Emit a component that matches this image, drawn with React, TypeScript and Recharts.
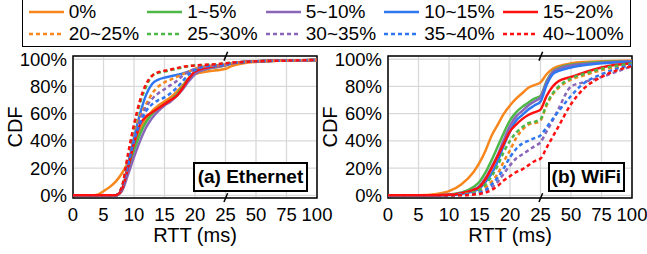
import React from "react";
import {
  CartesianGrid,
  Line,
  LineChart,
  ReferenceArea,
  ReferenceLine,
  XAxis,
  YAxis,
} from "recharts";

const FONT = '"Liberation Sans", Arial, sans-serif';

// broken x axis: 0-25 ms linear, then 25/50/75/100 one step each
const TICK_LABELS = ["0", "5", "10", "15", "20", "25", "50", "75", "100"];
const TICKS = [0, 1, 2, 3, 4, 5, 6, 7, 8];
const Y_TICKS = [0, 20, 40, 60, 80, 100];

const SERIES = [
  { key: "s0", name: "0%", color: "#F7861C", dashed: false },
  { key: "s1", name: "1~5%", color: "#4DB848", dashed: false },
  { key: "s2", name: "5~10%", color: "#8A66B8", dashed: false },
  { key: "s3", name: "10~15%", color: "#2F77F0", dashed: false },
  { key: "s4", name: "15~20%", color: "#FF1010", dashed: false },
  { key: "s5", name: "20~25%", color: "#F7861C", dashed: true },
  { key: "s6", name: "25~30%", color: "#4DB848", dashed: true },
  { key: "s7", name: "30~35%", color: "#8A66B8", dashed: true },
  { key: "s8", name: "35~40%", color: "#2F77F0", dashed: true },
  { key: "s9", name: "40~100%", color: "#FF1010", dashed: true },
];

// Ethernet CDF (%), one list per loss bucket, on RTT_ETH (ms)
const RTT_ETH = [0, 3, 4, 5, 6, 7, 8, 9, 10, 11, 12, 13, 14, 15, 16, 17, 18, 19, 20, 22, 25, 30, 40, 50, 75, 100];
const ETH = [
  [0, 0, 0.5, 3, 6, 10, 16, 24, 36, 48, 56, 62, 66, 69, 72, 76, 81, 86, 89, 91, 93, 95, 97, 98, 99, 99.5],
  [0, 0, 0, 0, 0, 0, 4, 18, 33, 45, 54, 60, 64, 67, 70, 74, 80, 86, 90, 93, 95.5, 97, 98, 98.5, 99, 99.5],
  [0, 0, 0, 0, 0, 0, 3, 15, 28, 40, 50, 57, 62, 66, 69, 73, 78, 84, 89, 93, 95.5, 97, 98, 98.5, 99, 99.5],
  [0, 0, 0, 0, 0, 0, 4, 22, 42, 60, 74, 82, 85, 86.5, 87.5, 88.5, 89.5, 91, 92.5, 94.5, 96, 97, 98, 98.5, 99, 99.5],
  [0, 0, 0, 0, 0, 0, 4, 20, 38, 52, 58, 61, 64, 67, 70, 73, 79, 86, 91, 94, 96, 97, 98, 98.5, 99, 99.5],
  [0, 0, 0, 0, 0, 0, 5, 25, 45, 58, 67, 75, 80, 83, 85, 87, 89, 91, 93, 95, 96, 97, 98, 98.5, 99, 99.5],
  [0, 0, 0, 0, 0, 0, 6, 28, 50, 68, 80, 88, 90, 91, 92, 93, 94, 95, 95.5, 96, 97, 97.5, 98, 98.5, 99, 99.5],
  [0, 0, 0, 0, 0, 0, 5, 22, 42, 56, 65, 71, 75, 78, 81, 84, 88, 91, 93, 95, 96, 97, 98, 98.5, 99, 99.5],
  [0, 0, 0, 0, 0, 0, 5, 22, 40, 53, 62, 67, 70, 72, 75, 79, 84, 89, 92, 95, 96, 97, 98, 98.5, 99, 99.5],
  [0, 0, 0, 0, 0, 0, 6, 30, 52, 70, 82, 88, 90.5, 91.5, 92.5, 93.5, 94.5, 95, 95.5, 96, 97, 97.5, 98, 98.5, 99, 99.5],
];

// WiFi CDF (%)
const RTT_WIFI = [0, 5, 8, 10, 12, 14, 15, 16, 17, 18, 19, 20, 21, 22, 23, 24, 25, 30, 35, 40, 50, 60, 75, 100];
const WIFI = [
  [0, 0, 1, 3, 8, 17, 24, 33, 44, 52, 60, 66, 71, 75, 79, 81, 83, 89, 93, 95, 97, 98, 98.5, 99],
  [0, 0, 0, 0.5, 2, 6, 10, 17, 26, 36, 46, 55, 61, 65, 68, 71, 73, 84, 91, 93.5, 96, 97, 98, 98.5],
  [0, 0, 0, 0.3, 1.5, 4, 7, 13, 21, 30, 41, 51, 58, 62, 66, 69, 72, 83, 90.5, 93, 95.5, 96.5, 97.5, 98.5],
  [0, 0, 0, 0.2, 1, 3, 5, 10, 16, 25, 37, 47, 55, 59, 63, 66, 69, 81, 89, 91.5, 94, 95.5, 97, 98],
  [0, 0, 0, 0.3, 1.5, 4, 6, 12, 20, 29, 38, 47, 52, 56, 59, 61, 63, 73, 80, 84, 87, 90, 94, 97],
  [0, 0, 0, 0, 0.5, 2, 3, 6, 10, 16, 25, 33, 42, 48, 52, 53, 55, 66, 74, 79, 85, 88, 92, 96],
  [0, 0, 0, 0, 0.5, 2, 4, 8, 14, 22, 32, 40, 46, 50, 53, 54, 56, 67, 75, 80, 86, 89, 93, 97],
  [0, 0, 0, 0, 0.3, 1, 1.5, 3, 6, 10, 16, 22, 27, 30, 33, 36, 39, 47, 55, 64, 80, 83, 87, 95],
  [0, 0, 0, 0, 0.3, 1, 2, 4, 8, 13, 20, 28, 34, 38, 40, 42, 44, 50, 56, 62, 73, 82, 89, 96],
  [0, 0, 0, 0, 0, 0.5, 1, 2, 4, 7, 11, 14, 17, 19, 22, 25, 27, 35, 43, 51, 67, 78, 87, 95],
];

function toAxis(ms: number) {
  return ms <= 25 ? ms / 5 : 5 + (ms - 25) / 25;
}

function buildRows(rtt: number[], cdfs: number[][]) {
  return rtt.map((ms, i) => {
    const row: Record<string, number> = { t: toAxis(ms) };
    SERIES.forEach((s, j) => {
      row[s.key] = cdfs[j][i];
    });
    return row;
  });
}

const Y_DOMAIN: [number, number] = [-2, 102.4];

function Panel({ data }: { data: Record<string, number>[] }) {
  const tick = { fontSize: 18.5, fill: "#000", fontFamily: FONT };
  const labelStyle = { fontSize: 20, fill: "#000", fontFamily: FONT };
  return (
    <LineChart width={330} height={254} data={data} margin={{ top: 56, right: 13, bottom: 0, left: 0 }}>
      <CartesianGrid stroke="#D9D9D9" strokeWidth={1.3} />
      <XAxis
        dataKey="t"
        type="number"
        domain={[0, 8]}
        ticks={TICKS}
        tickFormatter={(v) => TICK_LABELS[v]}
        interval={0}
        height={56}
        tickLine={false}
        axisLine={false}
        tickSize={0}
        tickMargin={9.5}
        tick={tick}
        label={{ value: "RTT (ms)", position: "insideBottom", offset: 12, style: labelStyle }}
      />
      <YAxis
        type="number"
        domain={Y_DOMAIN}
        ticks={Y_TICKS}
        tickFormatter={(v) => `${v}%`}
        width={73}
        tickLine={false}
        axisLine={false}
        tickSize={0}
        tickMargin={6}
        tick={tick}
        label={{
          value: "CDF",
          angle: -90,
          position: "insideLeft",
          offset: 15,
          style: { ...labelStyle, textAnchor: "middle" },
        }}
      />
      {SERIES.map((s) => (
        <Line
          key={s.key}
          dataKey={s.key}
          type="monotone"
          stroke={s.color}
          strokeWidth={2.5}
          strokeDasharray={s.dashed ? "4 3" : undefined}
          dot={false}
          isAnimationActive={false}
        />
      ))}
      <ReferenceArea x1={0} x2={8} y1={Y_DOMAIN[0]} y2={Y_DOMAIN[1]} fill="none" stroke="#000" strokeWidth={1.5} ifOverflow="visible" />
      <ReferenceLine segment={[{ x: 4.95, y: 99 }, { x: 5.07, y: 105.5 }]} stroke="#000" strokeWidth={1.5} ifOverflow="visible" />
      <ReferenceLine segment={[{ x: 4.95, y: -5 }, { x: 5.07, y: 1.5 }]} stroke="#000" strokeWidth={1.5} ifOverflow="visible" />
    </LineChart>
  );
}

function LegendBox() {
  return (
    <div
      style={{
        position: "absolute",
        left: 21.7,
        top: -2,
        width: 609,
        height: 48.7,
        border: "1.5px solid #000",
        boxSizing: "border-box",
        background: "#fff",
      }}
    >
      {SERIES.map((s, i) => {
        const col = i % 5;
        const row = Math.floor(i / 5);
        return (
          <div
            key={s.key}
            style={{
              position: "absolute",
              left: 29.3 + col * 118.5 - 23.2,
              top: (row === 0 ? 12.5 : 35) - 11,
              height: 22,
              display: "flex",
              alignItems: "center",
              whiteSpace: "nowrap",
            }}
          >
            <svg width={35} height={6} style={{ marginRight: 5 }}>
              <line x1={0} y1={3} x2={35} y2={3} stroke={s.color} strokeWidth={2.5} strokeDasharray={s.dashed ? "4 3" : undefined} />
            </svg>
            <span style={{ fontSize: 19, fontFamily: FONT, lineHeight: "22px" }}>{s.name}</span>
          </div>
        );
      })}
    </div>
  );
}

function Tag({ left, width, text }: { left: number; width: number; text: string }) {
  return (
    <div
      style={{
        position: "absolute",
        left,
        top: 162.3,
        width,
        height: 29.4,
        border: "2px solid #000",
        boxSizing: "border-box",
        background: "#fff",
        fontFamily: FONT,
        fontWeight: "bold",
        fontSize: 19,
        display: "flex",
        alignItems: "center",
        justifyContent: "center",
      }}
    >
      {text}
    </div>
  );
}

export default function App() {
  const eth = buildRows(RTT_ETH, ETH);
  const wifi = buildRows(RTT_WIFI, WIFI);
  return (
    <div style={{ position: "absolute", left: 0, top: 0, width: 647, height: 254, background: "#fff", overflow: "hidden" }}>
      {/* let the "100" tick spill past each panel's svg edge */}
      <style>{".recharts-wrapper, .recharts-surface { overflow: visible !important; }"}</style>
      <div style={{ position: "absolute", left: 0, top: 0 }}>
        <Panel data={eth} />
      </div>
      <div style={{ position: "absolute", left: 315, top: 0 }}>
        <Panel data={wifi} />
      </div>
      <LegendBox />
      <Tag left={192.7} width={115.6} text="(a) Ethernet" />
      <Tag left={547.7} width={77.3} text="(b) WiFi" />
    </div>
  );
}
